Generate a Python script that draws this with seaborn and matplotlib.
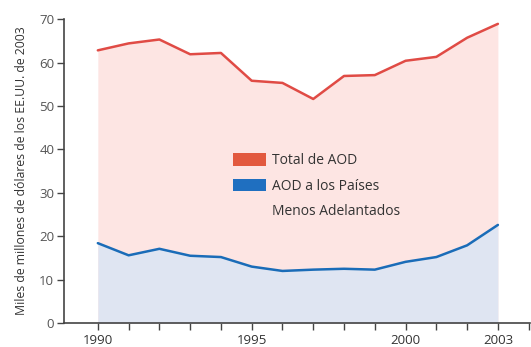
import matplotlib
matplotlib.use("Agg")
import matplotlib.pyplot as plt
from matplotlib.patches import Patch
import seaborn as sns
import pandas as pd

years = list(range(1990, 2004))
aod_total = [62.8, 64.4, 65.3, 61.9, 62.2, 55.8, 55.3, 51.6, 56.9, 57.1, 60.4, 61.3, 65.7, 68.9]
aod_pma = [18.4, 15.6, 17.1, 15.5, 15.2, 13.0, 12.0, 12.3, 12.5, 12.3, 14.1, 15.2, 17.9, 22.6]
xtick_labels = ["1990", "1995", "2000", "2003"]

red_line = "#e04b45"
red_fill = "#fde5e3"
blue_line = "#1a6cb8"
blue_fill = "#dfe5f2"
axis_col = "#444444"
text_col = "#333333"

df = pd.DataFrame({"year": years, "total": aod_total, "pma": aod_pma})

sns.set_style("white")
plt.rcParams["font.family"] = ["Open Sans", "DejaVu Sans"]

fig = plt.figure(figsize=(5.31, 3.47), dpi=100)
ax = fig.add_axes([0.1205, 0.069, 0.878, 0.876])

ax.fill_between(df["year"], 0, df["total"], color=red_fill, linewidth=0)
ax.fill_between(df["year"], 0, df["pma"], color=blue_fill, linewidth=0)
sns.lineplot(data=df, x="year", y="total", color=red_line, linewidth=1.8, ax=ax)
sns.lineplot(data=df, x="year", y="pma", color=blue_line, linewidth=1.8, ax=ax)

ax.set_xlim(1988.9, 2004.05)
ax.set_ylim(0, 70)

ax.set_yticks(range(0, 71, 10))
ax.tick_params(axis="y", direction="out", length=5, width=1, color=axis_col,
               labelsize=9.5, labelcolor="#555555", pad=2, left=True)
ax.set_xticks([int(t) for t in xtick_labels])
ax.set_xticklabels(xtick_labels)
ax.set_xticks(list(range(1990, 2005)), minor=True)
ax.tick_params(axis="x", which="both", direction="out", length=5, width=1,
               color=axis_col, labelsize=9.5, labelcolor="#333333", pad=3, bottom=True)

for s in ["top", "right"]:
    ax.spines[s].set_visible(False)
for s in ["left", "bottom"]:
    ax.spines[s].set_color(axis_col)
    ax.spines[s].set_linewidth(1.2)

ax.set_xlabel("")
ax.set_ylabel("Miles de millones de dólares de los EE.UU. de 2003",
              fontsize=8.8, color=text_col, labelpad=8)

# the second label wraps onto a row without a swatch, so the blue swatch
# sits level with the first line of its label
handles = [Patch(facecolor="#e2593f", edgecolor="none"),
           Patch(facecolor="#1f6fc0", edgecolor="none"),
           Patch(facecolor="none", edgecolor="none")]
labels = ["Total de AOD", "AOD a los Países", "Menos Adelantados"]
leg = ax.legend(handles, labels, loc="upper left", bbox_to_anchor=(0.335, 0.60),
                frameon=False, fontsize=10, labelcolor=text_col,
                handlelength=2.4, handleheight=1.0, handletextpad=0.45,
                labelspacing=0.75)

fig.savefig("out.png", dpi=100)
